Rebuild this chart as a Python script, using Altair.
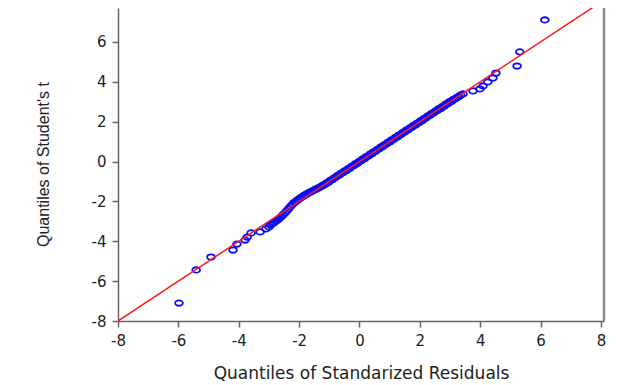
import altair as alt
import pandas as pd

# Dense central band of the Q-Q plot (x = standardized residual quantile, y = Student's t quantile)
dense_x = [-2.95, -2.89, -2.83, -2.77, -2.71, -2.65, -2.59, -2.53, -2.47, -2.41,
           -2.35, -2.29, -2.23, -2.17, -2.11, -2.05, -1.99, -1.93, -1.87, -1.81,
           -1.75, -1.69, -1.63, -1.57, -1.51, -1.45, -1.39, -1.33, -1.27, -1.21,
           -1.15, -1.09, -1.03, -0.97, -0.91, -0.85, -0.79, -0.73, -0.67, -0.61,
           -0.55, -0.49, -0.43, -0.37, -0.31, -0.25, -0.19, -0.13, -0.07, -0.01,
           0.05, 0.11, 0.17, 0.23, 0.29, 0.35, 0.41, 0.47, 0.53, 0.59,
           0.65, 0.71, 0.77, 0.83, 0.89, 0.95, 1.01, 1.07, 1.13, 1.19,
           1.25, 1.31, 1.37, 1.43, 1.49, 1.55, 1.61, 1.67, 1.73, 1.79,
           1.85, 1.91, 1.97, 2.03, 2.09, 2.15, 2.21, 2.27, 2.33, 2.39,
           2.45, 2.51, 2.57, 2.63, 2.69, 2.75, 2.81, 2.87, 2.93, 2.99,
           3.05, 3.11, 3.17, 3.23, 3.29, 3.35]
dense_y = [-3.18, -3.12, -3.06, -2.99, -2.92, -2.84, -2.76, -2.67, -2.58, -2.48,
           -2.37, -2.26, -2.16, -2.07, -2.00, -1.93, -1.86, -1.80, -1.74, -1.68,
           -1.63, -1.57, -1.53, -1.48, -1.44, -1.39, -1.35, -1.30, -1.25, -1.19,
           -1.16, -1.07, -1.04, -0.95, -0.92, -0.83, -0.80, -0.71, -0.68, -0.59,
           -0.56, -0.47, -0.45, -0.35, -0.33, -0.23, -0.21, -0.11, -0.09, 0.01,
           0.03, 0.13, 0.15, 0.25, 0.27, 0.37, 0.39, 0.49, 0.51, 0.61,
           0.63, 0.73, 0.75, 0.85, 0.87, 0.97, 0.99, 1.09, 1.11, 1.21,
           1.23, 1.33, 1.35, 1.45, 1.47, 1.57, 1.59, 1.69, 1.71, 1.81,
           1.83, 1.93, 1.95, 2.05, 2.07, 2.17, 2.19, 2.29, 2.31, 2.41,
           2.43, 2.53, 2.55, 2.65, 2.66, 2.77, 2.78, 2.89, 2.90, 3.01,
           3.02, 3.12, 3.14, 3.22, 3.25, 3.33]

# Tails
upper_x = [6.14, 5.31, 5.22, 4.52, 4.42, 4.25, 4.09, 3.99, 3.76, 3.43]
upper_y = [7.10, 5.50, 4.79, 4.44, 4.19, 3.99, 3.79, 3.64, 3.54, 3.39]
lower_x = [-5.98, -5.41, -4.92, -4.19, -4.06, -3.79, -3.72, -3.59, -3.29, -3.10, -3.00]
lower_y = [-7.10, -5.44, -4.79, -4.44, -4.14, -3.94, -3.79, -3.58, -3.53, -3.38, -3.28]

ref_line_x = [-8, 8]
ref_line_y = [-8, 8]
tick_values = [-8, -6, -4, -2, 0, 2, 4, 6, 8]
y_tick_values = [-8, -6, -4, -2, 0, 2, 4, 6]

pts = pd.DataFrame({
    "x": dense_x + upper_x + lower_x,
    "y": dense_y + upper_y + lower_y,
})
line_df = pd.DataFrame({"x": ref_line_x, "y": ref_line_y})
frame_df = pd.DataFrame({"x": [8.1]})

WIDE = "DejaVu Sans"
NARROW = "Liberation Sans"
xscale = alt.Scale(domain=[-8, 8.1], nice=False, zero=False)
yscale = alt.Scale(domain=[-8, 7.7], nice=False, zero=False)

common = dict(
    grid=False, labelFont=WIDE, labelFontSize=15, labelColor="#222222",
    titleFontWeight="normal", titleColor="#222222",
    domainColor="#666666", domainWidth=1.5,
    tickColor="#666666", tickWidth=1.5, tickSize=6, labelFlush=False,
    labelExpr="toString(datum.value)",
)
xaxis = alt.Axis(values=tick_values, title="Quantiles of Standarized Residuals",
                 titleFont=WIDE, titleFontSize=17,
                 labelPadding=6, titleBaseline="alphabetic", titleY=57, **common)
yaxis = alt.Axis(values=y_tick_values, title="Quantiles of Student's t",
                 titleFont=NARROW, titleFontSize=16,
                 labelPadding=6, titleAngle=-90, titleBaseline="alphabetic",
                 titleAlign="center", titleX=-70, titleY=156, **common)

ellipse = "M-1,0A1,0.7,0,1,1,1,0A1,0.7,0,1,1,-1,0Z"

points = alt.Chart(pts).mark_point(
    shape=ellipse, filled=False, color="#0a0aff", strokeWidth=1.8, size=60, opacity=1
).encode(
    x=alt.X("x:Q", scale=xscale, axis=xaxis),
    y=alt.Y("y:Q", scale=yscale, axis=yaxis),
)

line = alt.Chart(line_df).mark_line(color="#ff1a1a", strokeWidth=1.5, clip=True).encode(
    x=alt.X("x:Q", scale=xscale),
    y=alt.Y("y:Q", scale=yscale),
)

frame = alt.Chart(frame_df).mark_rule(color="#8c8c8c", strokeWidth=2.5).encode(
    x=alt.X("x:Q", scale=xscale)
)

chart = alt.layer(points, line, frame).properties(
    width=486, height=313,
    autosize=alt.AutoSizeParams(type="none"),
    padding={"left": 110, "top": 0, "right": 21, "bottom": 64},
    background="white",
).configure_view(stroke=None)

chart.save("out.html", embed_options={"renderer": "svg", "actions": False})
